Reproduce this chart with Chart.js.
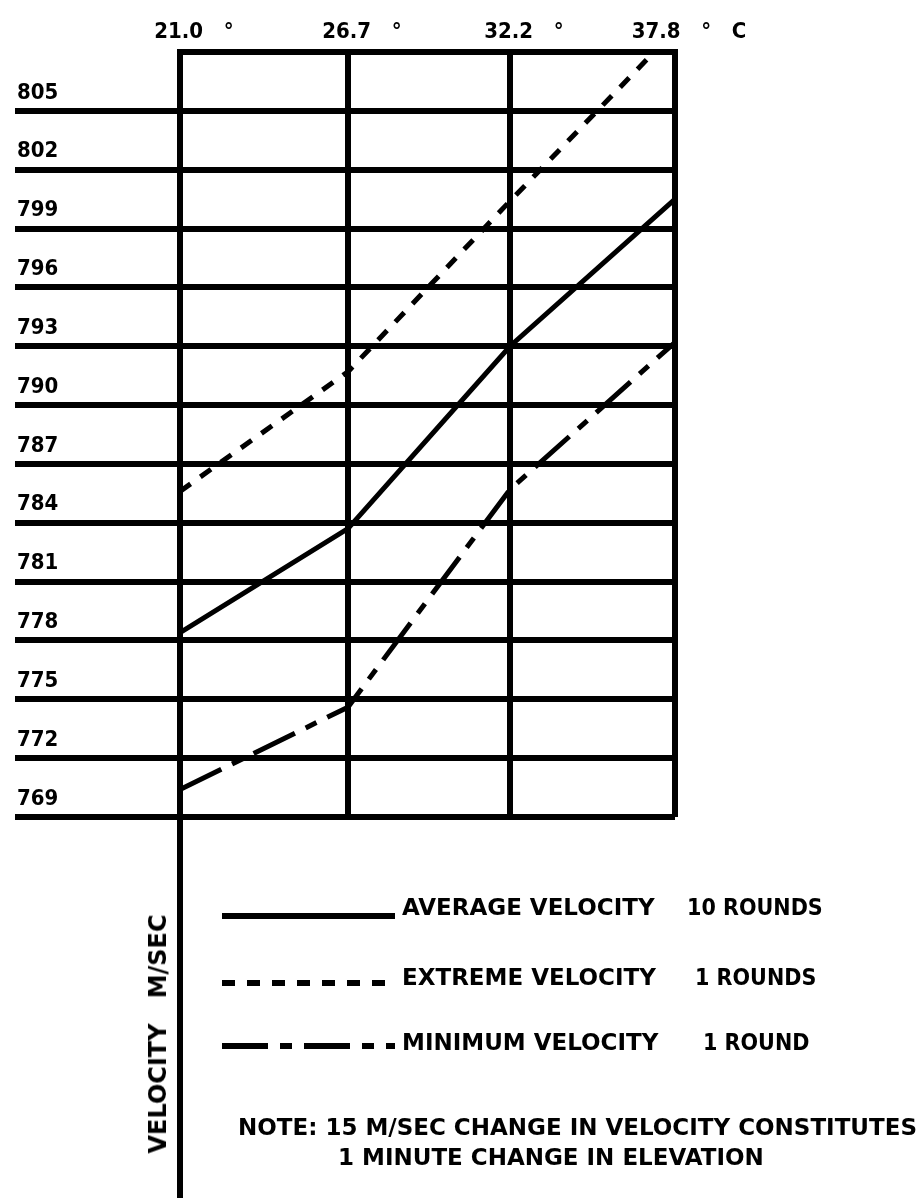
<!DOCTYPE html>
<html>
<head>
<meta charset="utf-8">
<title>Velocity vs temperature</title>
<script src="https://cdn.jsdelivr.net/npm/chart.js@4.4.1/dist/chart.umd.min.js"></script>
<style>
  body { margin: 0; background: #fff; }
  #wrap { position: relative; width: 921px; height: 1198px; overflow: hidden; }
  #chart { position: absolute; left: 0; top: 0; }
  .txt {
    position: absolute;
    font-family: 'DejaVu Sans', sans-serif;
    font-weight: bold;
    font-size: 23px;
    line-height: 23px;
    color: #000;
    white-space: pre;
  }
  .narrow { font-family: 'DejaVu Sans Condensed', 'DejaVu Sans', sans-serif; }
  .sample { position: absolute; left: 222px; width: 175px; height: 10px; }
</style>
</head>
<body>
<div id="wrap">
  <canvas id="chart" width="921" height="1198"></canvas>
  <div id="legend"></div>
  <div class="txt" style="left:238px; top:1116px;">NOTE: 15 M/SEC CHANGE IN VELOCITY CONSTITUTES</div>
  <div class="txt" style="left:338px; top:1146px;">1 MINUTE CHANGE IN ELEVATION</div>
  <div class="txt" id="yTitle" style="font-size:24px; line-height:24px; left:158px; top:1034px; transform: translate(-50%, -50%) rotate(-90deg);">VELOCITY   M/SEC</div>
</div>

<script>
// Data (temperature in °C, velocity in m/sec)
const temperatures = [21.0, 26.7, 32.2, 37.8];
const tempLabels = ['21.0   °', '26.7   °', '32.2   °', '37.8   °   C'];
const velocityTicks = [769, 772, 775, 778, 781, 784, 787, 790, 793, 796, 799, 802, 805];

const averageVelocity = [778.4, 783.7, 793.0, 800.5];
const extremeVelocity = [785.6, 791.7, 800.4, 809.1];
const minimumVelocity = [770.4, 774.6, 785.7, 793.2];

const seriesNames = ['AVERAGE VELOCITY', 'EXTREME VELOCITY', 'MINIMUM VELOCITY'];
const seriesRounds = ['10 ROUNDS', '1 ROUNDS', '1 ROUND'];
const seriesDash = [[], [13, 12], [46, 12, 12, 12]];

const tickFont = { family: "'DejaVu Sans Condensed', 'DejaVu Sans', sans-serif", weight: 'bold', size: 22 };

function toPoints(values) {
    return temperatures.map((t, i) => ({ x: t, y: values[i] }));
}

// Legend (HTML, below the plot)
const legendRows = [
    { textTop: 896, lineY: 916, roundsLeft: 687 },
    { textTop: 966, lineY: 983, roundsLeft: 695 },
    { textTop: 1031, lineY: 1046, roundsLeft: 703 }
];
const legendBox = document.getElementById('legend');
legendRows.forEach((row, i) => {
    legendBox.innerHTML += `
      <svg class="sample" style="top:${row.lineY - 5}px" width="175" height="10">
        <line x1="0" y1="5" x2="173" y2="5" stroke="#000" stroke-width="6"
              stroke-dasharray="${seriesDash[i].join(' ') || 'none'}"/>
      </svg>
      <div class="txt" style="left:402px; top:${row.textTop}px">${seriesNames[i]}</div>
      <div class="txt narrow" style="left:${row.roundsLeft}px; top:${row.textTop}px">${seriesRounds[i]}</div>`;
});

// The 21.0° line keeps going down past the bottom of the grid
const axisExtension = {
    id: 'axisExtension',
    afterDraw(chart) {
        const ctx = chart.ctx;
        const x = chart.scales.x.getPixelForValue(temperatures[0]);
        ctx.save();
        ctx.strokeStyle = '#000';
        ctx.lineWidth = 6;
        ctx.beginPath();
        ctx.moveTo(x, chart.chartArea.bottom);
        ctx.lineTo(x, chart.height);
        ctx.stroke();
        ctx.restore();
    }
};

const lineStyle = { borderColor: '#000', borderWidth: 5, pointRadius: 0, tension: 0, fill: false, borderCapStyle: 'butt' };

new Chart(document.getElementById('chart'), {
    type: 'line',
    data: {
        datasets: [
            { ...lineStyle, label: seriesNames[0], data: toPoints(averageVelocity), borderDash: seriesDash[0] },
            { ...lineStyle, label: seriesNames[1], data: toPoints(extremeVelocity), borderDash: seriesDash[1] },
            { ...lineStyle, label: seriesNames[2], data: toPoints(minimumVelocity), borderDash: seriesDash[2] }
        ]
    },
    options: {
        responsive: false,
        animation: false,
        layout: { padding: { left: 17, top: 0, right: 246, bottom: 381 } },
        plugins: { legend: { display: false }, tooltip: { enabled: false } },
        scales: {
            x: {
                type: 'linear',
                position: 'top',
                min: temperatures[0],
                max: temperatures[temperatures.length - 1],
                afterBuildTicks: s => { s.ticks = temperatures.map(v => ({ value: v })); },
                afterFit: s => { s.height = 52; },
                ticks: {
                    callback: (v, i) => tempLabels[i],
                    font: tickFont,
                    color: '#000',
                    padding: 7,
                    labelOffset: 14,
                    maxRotation: 0,
                    autoSkip: false
                },
                grid: { color: '#000', lineWidth: 6, drawTicks: false },
                border: { color: '#000', width: 6 }
            },
            y: {
                type: 'linear',
                min: 769,
                max: 808,
                afterBuildTicks: s => { s.ticks = velocityTicks.map(v => ({ value: v })); },
                afterFit: s => { s.width = 163; },
                ticks: {
                    font: tickFont,
                    color: '#000',
                    crossAlign: 'far',
                    labelOffset: -18,
                    autoSkip: false
                },
                grid: { color: '#000', lineWidth: 6, tickLength: 165 },
                border: { color: '#000', width: 6 }
            }
        }
    },
    plugins: [axisExtension]
});
</script>
</body>
</html>
